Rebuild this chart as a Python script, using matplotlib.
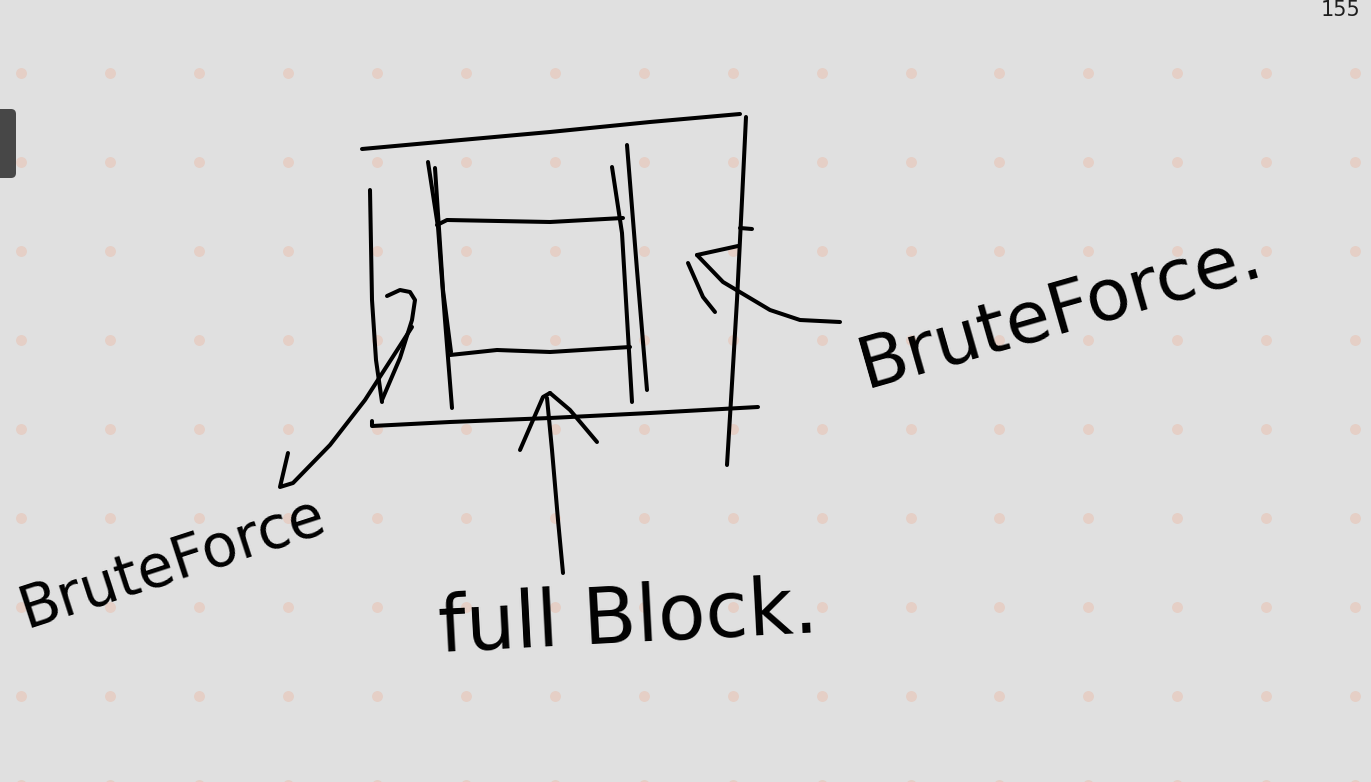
import numpy as np
import matplotlib.pyplot as plt
import matplotlib.patches as patches

# dotted paper grid
dot_cols = [21, 110, 199, 288, 377, 466, 555, 644, 733, 822, 911, 999, 1088, 1177, 1266, 1355]
dot_rows = [73, 162, 251, 340, 429, 518, 607, 696, 785]

# hand drawn strokes, pixel coords (y down)
strokes = {
    'top_edge':     [(362, 149), (450, 141), (550, 132), (650, 122), (740, 114)],
    'right_edge':   [(746, 117), (742, 200), (737, 300), (731, 400), (727, 465)],
    'right_tick':   [(740, 228), (752, 229)],
    'bottom_edge':  [(372, 421), (372, 426), (450, 422), (550, 418), (650, 413), (758, 407)],
    'left_edge':    [(370, 190), (372, 300), (376, 360), (382, 402)],
    'inner_l_a':    [(428, 162), (438, 227), (445, 320), (452, 408)],
    'inner_l_b':    [(435, 168), (443, 290), (451, 352)],
    'inner_top':    [(437, 225), (447, 220), (550, 222), (623, 218)],
    'inner_bottom': [(450, 355), (497, 350), (550, 352), (630, 347)],
    'inner_r_a':    [(612, 167), (622, 233), (632, 402)],
    'inner_r_b':    [(627, 145), (637, 270), (647, 390)],
    'arrow_l_shaft': [(288, 453), (280, 487), (293, 483), (330, 445), (365, 400), (412, 327)],
    'arrow_l_head':  [(382, 400), (400, 358), (412, 320), (415, 300), (410, 292), (400, 290), (387, 296)],
    'arrow_b_shaft': [(547, 398), (552, 450), (558, 520), (563, 573)],
    'arrow_b_left':  [(520, 450), (543, 397), (550, 393)],
    'arrow_b_right': [(550, 393), (570, 410), (597, 442)],
    'arrow_r_curve': [(697, 255), (723, 282), (770, 310), (800, 320), (840, 322)],
    'arrow_r_up':    [(697, 255), (738, 246)],
    'arrow_r_low':   [(688, 263), (703, 297), (715, 312)],
}

labels = ['BruteForce', 'BruteForce.', 'full Block.']
label_pos = [(26, 628), (866, 388), (440, 652)]
label_rot = [18, 16, 3]
label_size = [42, 52, 56]
page_no = '155'

W, H = 1371, 782
fig = plt.figure(figsize=(W / 100, H / 100), dpi=100)
fig.patch.set_facecolor('#e0e0e0')
ax = fig.add_axes([0, 0, 1, 1])
ax.set_xlim(0, W)
ax.set_ylim(H, 0)
ax.axis('off')

gx, gy = np.meshgrid(dot_cols, dot_rows)
ax.scatter(gx.ravel(), gy.ravel(), s=62, color='#e5cfc6', linewidths=0, zorder=1)

for name, pts in strokes.items():
    xs, ys = zip(*pts)
    ax.plot(xs, ys, color='black', lw=2.9, solid_capstyle='round',
            solid_joinstyle='round', zorder=3)

for txt, (x, y), rot, fs in zip(labels, label_pos, label_rot, label_size):
    ax.text(x, y, txt, fontsize=fs, rotation=rot, rotation_mode='anchor',
            ha='left', va='baseline', color='black', family='DejaVu Sans', zorder=3)

ax.text(1360, 16, page_no, fontsize=15, ha='right', va='baseline', color='#1e1e1e')

# side tab
tab = patches.FancyBboxPatch((-10, 109), 26, 69, boxstyle='round,pad=0,rounding_size=5',
                             facecolor='#474747', edgecolor='none', zorder=4)
ax.add_patch(tab)

fig.savefig('out.png', dpi=100, facecolor=fig.get_facecolor())
